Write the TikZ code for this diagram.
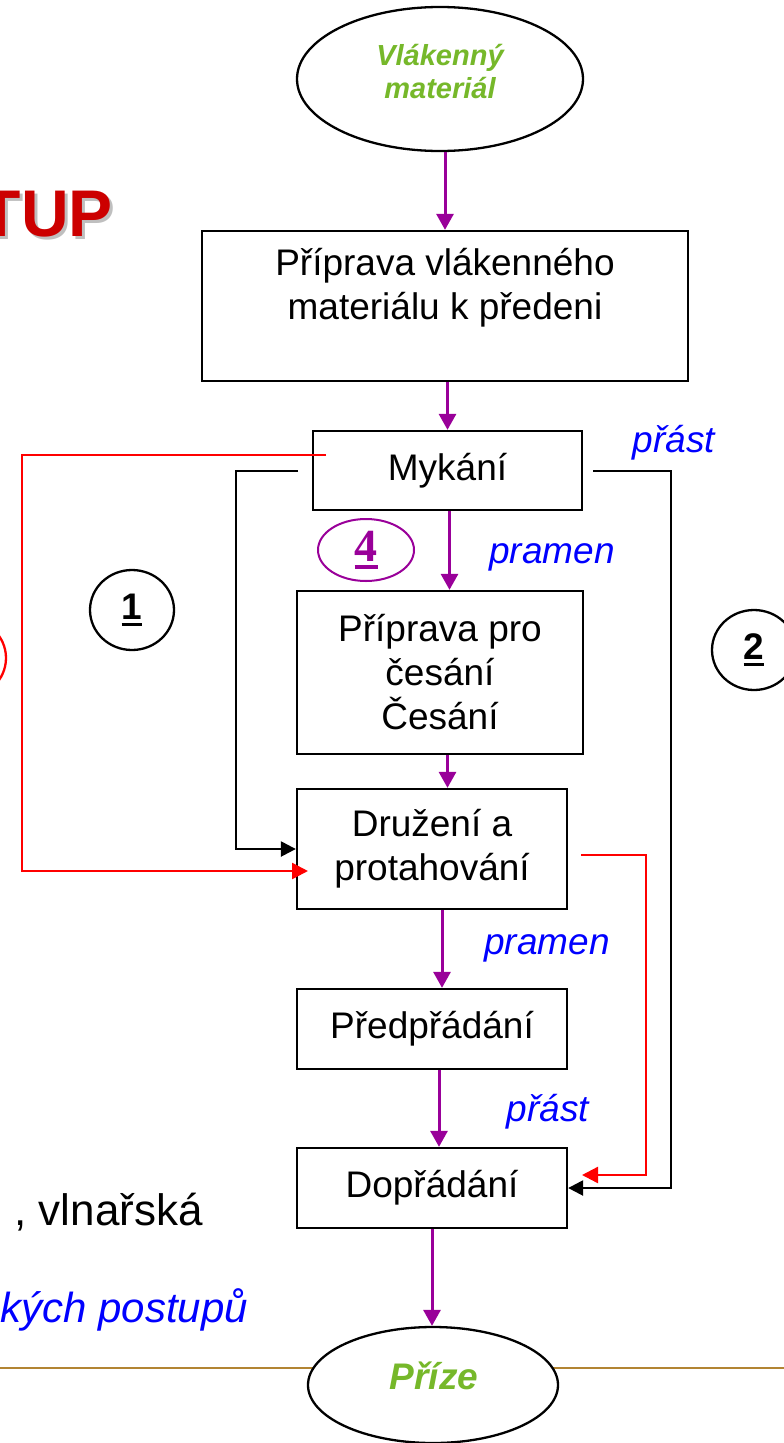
\documentclass[tikz,border=0pt]{standalone}
\usepackage{fontspec}
\setmainfont{Liberation Sans}
\newfontfamily\serifnum{Liberation Serif}
\usetikzlibrary{arrows.meta,shapes.geometric,calc}
\definecolor{pur}{RGB}{153,0,153}
\definecolor{grn}{RGB}{118,184,42}
\definecolor{blu}{RGB}{0,0,255}
\definecolor{brn}{RGB}{178,132,50}
\definecolor{tupred}{RGB}{204,0,0}
\newcommand\myul[1]{\setbox0\hbox{#1}\leavevmode\rlap{\copy0}\rule[-0.16em]{\wd0}{0.08em}}
\begin{document}
\begin{tikzpicture}[x=1pt,y=-1pt,
  box/.style={draw,line width=2.3,inner sep=0,align=center,font=\fontsize{37}{44}\selectfont},
  txt/.style={inner sep=0,align=center,font=\fontsize{37}{44}\selectfont},
  oval/.style={draw,ellipse,line width=2.3,inner sep=0,fill=white},
  gtxt/.style={inner sep=0,align=center,text=grn,font=\bfseries\itshape},
  lbl/.style={inner sep=0,text=blu,font=\itshape\fontsize{37}{44}\selectfont},
  num/.style={draw,ellipse,line width=2.3,inner sep=0,minimum width=84,minimum height=80,font=\bfseries\fontsize{37}{42}\selectfont},
  parrow/.style={draw=pur,line width=3,-{Triangle[length=16pt,width=17pt]}},
  barrow/.style={draw=black,line width=2.4,-{Triangle[length=15pt,width=15pt]}},
  rarrow/.style={draw=red,line width=2.4,-{Triangle[length=16pt,width=16pt]}}
]
\useasboundingbox (0,0) rectangle (784,1443);
\clip (0,0) rectangle (784,1443);

% brown rule
\coordinate (rulel) at (0,1368);
\coordinate (ruler) at (784,1368);
\draw[brn,line width=2.5] (rulel) -- (ruler);

% title fragment
\node[inner sep=0,anchor=base east,text=black!25,font=\bfseries\fontsize{66}{70}\selectfont] (tupsh) at (116,239) {TUP};
\node[inner sep=0,anchor=base east,text=tupred,font=\bfseries\fontsize{66}{70}\selectfont] (tup) at (113,236) {TUP};

% left text fragments
\node[inner sep=0,anchor=base east,font=\fontsize{44}{50}\selectfont] (vln) at (203,1225) {, vlnařská};
\node[inner sep=0,anchor=base east,text=blu,font=\itshape\fontsize{42}{48}\selectfont] (post) at (248,1322) {kých postupů};

% top ellipse
\node[oval,minimum width=286,minimum height=144] (top) at (440,79) {};
\node[gtxt,font=\bfseries\itshape\fontsize{29}{33}\selectfont] (topt) at (440,72) {Vlákenný\\materiál};

% boxes
\node[box,minimum width=486,minimum height=150] (prep) at (445,306) {};
\node[txt] (prept) at (445,288) {Příprava vlákenného\\materiálu k předeni};
\node[box,minimum width=269,minimum height=79] (myk) at (447.5,470.5) {Mykání};
\node[box,minimum width=286,minimum height=163] (pro) at (440,672.5) {Příprava pro\\česání\\ Česání};
\node[box,minimum width=270,minimum height=120] (dru) at (432,849) {Družení a\\protahování};
\node[box,minimum width=270,minimum height=80] (pred) at (432,1029) {Předpřádání};
\node[box,minimum width=270,minimum height=80] (dop) at (432,1188) {Dopřádání};

% bottom ellipse
\node[oval,minimum width=250,minimum height=116] (prize) at (433,1385) {};
\node[gtxt,font=\bfseries\itshape\fontsize{37}{42}\selectfont] (prizet) at (434,1376) {Příze};

% circles
\node[num] (c1) at (132,610) {\myul{1}};
\node[num] (c2) at (754,650) {\myul{2}};
\node[draw=red,ellipse,line width=2.3,inner sep=0,minimum width=84,minimum height=80] (c3) at (-36,658) {};
\node[draw=pur,ellipse,line width=2,inner sep=0,minimum width=96,minimum height=62,text=pur,font=\serifnum\bfseries\fontsize{46}{50}\selectfont] (c4) at (366,550) {\myul{4}};

% blue labels
\node[lbl] (l1) at (674,443) {přást};
\node[lbl] (l2) at (552,557) {pramen};
\node[lbl] (l3) at (547,948) {pramen};
\node[lbl] (l4) at (548,1112) {přást};

% purple flow arrows
\draw[parrow] (prep.north |- top.south) -- (prep.north);
\draw[parrow] (myk.north |- prep.south) -- (myk.north);
\draw[parrow] ([xshift=2]myk.south) -- ([xshift=2]myk.south |- pro.north);
\draw[parrow] (myk.south |- pro.south) -- (myk.south |- dru.north);
\draw[parrow] ([xshift=10]dru.south) -- ([xshift=10]pred.north);
\draw[parrow] ([xshift=7]pred.south) -- ([xshift=7]dop.north);
\draw[parrow] (dop.south) -- (dop.south |- prize.north);

% black bypasses
\coordinate (bls) at (298,471);
\coordinate (blc) at (236,471);
\draw[barrow] (bls) -- (blc) |- (dru.west);
\coordinate (brs) at (593,471);
\coordinate (brc) at (671,471);
\draw[barrow] (brs) -- (brc) |- (dop.east);

% red bypasses
\coordinate (rls) at (326,455);
\coordinate (rlc) at (22,455);
\coordinate (rle) at (308,871);
\draw[rarrow] (rls) -- (rlc) |- (rle);
\coordinate (rrs) at (581,855);
\coordinate (rrc) at (646,855);
\coordinate (rre) at (582,1175);
\draw[rarrow] (rrs) -- (rrc) |- (rre);
\end{tikzpicture}
\end{document}
